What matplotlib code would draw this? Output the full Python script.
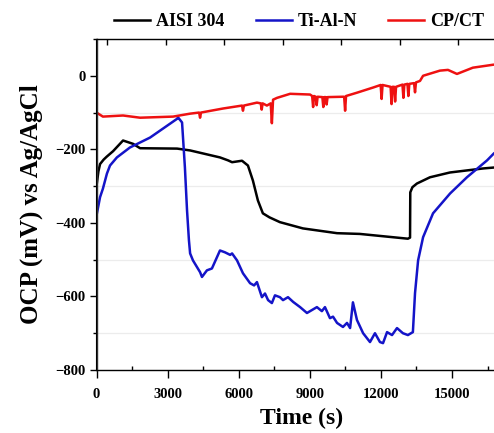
import matplotlib
matplotlib.use("Agg")
import matplotlib.pyplot as plt
from matplotlib.ticker import MultipleLocator, FixedLocator

# Open-circuit potential traces (time in s, potential in mV vs Ag/AgCl)
aisi_t = [0, 80, 150, 300, 430, 700, 1120, 1540, 1840, 3400, 3950, 5210, 5550,
          5720, 6140, 6390, 6600, 6810, 7020, 7300, 7740, 8710, 10150, 11110,
          13140, 13230, 13240, 13330, 13520, 14070, 14910, 16310, 17400]
aisi_v = [-300, -260, -240, -228, -220, -205, -176, -185, -197, -198, -203,
          -222, -230, -235, -231, -244, -285, -339, -374, -385, -398, -415,
          -428, -430, -443, -440, -317, -303, -293, -276, -263, -252, -246]

tialn_t = [0, 150, 270, 440, 570, 860, 1410, 2260, 3400, 3440, 3610, 3730,
           3820, 3900, 3950, 4070, 4370, 4450, 4660, 4870, 5210, 5420, 5640,
           5720, 5930, 6180, 6480, 6650, 6770, 6980, 7110, 7240, 7400, 7530,
           7740, 7870, 8080, 8300, 8590, 8880, 9090, 9300, 9510, 9640, 9850,
           9980, 10150, 10400, 10570, 10700, 10820, 10990, 11250, 11540,
           11750, 11960, 12090, 12260, 12470, 12680, 12930, 13140, 13350,
           13440, 13570, 13780, 14200, 14920, 15630, 16480, 16770, 17400]
tialn_v = [-380, -330, -307, -266, -244, -222, -195, -168, -117, -113, -127,
           -249, -366, -447, -483, -502, -534, -547, -529, -524, -475, -480,
           -487, -483, -502, -537, -564, -570, -561, -602, -592, -610, -618,
           -597, -602, -610, -602, -615, -629, -645, -637, -629, -640, -629,
           -659, -655, -672, -683, -672, -686, -616, -664, -700, -724, -700,
           -724, -727, -697, -705, -686, -700, -705, -697, -591, -502, -439,
           -374, -320, -276, -230, -211, -185]

cpct_t = [0, 270, 1120, 1840, 3230, 3950, 4330, 4370, 4410, 5340, 6140, 6180,
          6220, 6770, 6930, 6970, 7010, 7190, 7350, 7400, 7450, 7620, 8170,
          9010, 9100, 9140, 9180, 9250, 9290, 9330, 9530, 9570, 9610, 9670,
          9710, 9750, 10400, 10450, 10490, 10530, 10990, 11670, 11990, 12030,
          12070, 12410, 12450, 12490, 12560, 12600, 12640, 12910, 12950,
          12990, 13120, 13160, 13200, 13400, 13440, 13480, 13650, 13780,
          14490, 14830, 15210, 15880, 16730, 17400]
cpct_v = [-100, -111, -108, -114, -111, -103, -100, -114, -100, -89, -81,
          -95, -81, -73, -75, -92, -75, -81, -75, -129, -65, -60, -49, -51,
          -55, -85, -55, -57, -80, -57, -58, -85, -58, -58, -78, -58, -57,
          -57, -95, -55, -46, -32, -25, -63, -25, -30, -77, -30, -30, -70,
          -30, -24, -60, -24, -22, -55, -22, -20, -45, -18, -14, 0, 14, 16,
          5, 22, 30, 34]

series = [
    ("AISI 304", aisi_t, aisi_v, "#000000"),
    ("Ti-Al-N", tialn_t, tialn_v, "#1414c8"),
    ("CP/CT", cpct_t, cpct_v, "#ee1111"),
]

x_ticks = [0, 3000, 6000, 9000, 12000, 15000]
y_ticks = [-800, -600, -400, -200, 0]
top_ticks = [440, 2930, 5380, 7870, 10320, 12800, 15250]

serif = ["Liberation Serif", "DejaVu Serif"]

fig = plt.figure(figsize=(4.94, 4.33), dpi=100)
ax = fig.add_axes([96.5 / 494, 63 / 433, 410 / 494, 331 / 433])

for name, t, v, c in series:
    ax.plot(t, v, color=c, lw=1.8, label=name)

ax.set_xlim(0, 17300)
ax.set_ylim(-800, 100)
ax.xaxis.set_major_locator(FixedLocator(x_ticks))
ax.xaxis.set_minor_locator(MultipleLocator(1500))
ax.yaxis.set_major_locator(FixedLocator(y_ticks))
ax.yaxis.set_minor_locator(MultipleLocator(100))
ax.yaxis.grid(True, which="minor", color="#ececec", lw=0.9)
ax.set_axisbelow(True)

ax.tick_params(axis="x", which="major", direction="out", length=6, width=1,
               pad=7)
ax.tick_params(axis="x", which="minor", direction="in", length=3, width=1)
ax.tick_params(axis="y", which="major", direction="out", length=5, width=1,
               pad=3)
ax.tick_params(axis="y", which="minor", direction="out", length=3, width=1)
ax.tick_params(right=False, which="both")

for lab in ax.get_xticklabels() + ax.get_yticklabels():
    lab.set_fontfamily(serif)
    lab.set_fontweight("bold")
    lab.set_fontsize(10.5)

ax.spines["right"].set_visible(False)
for s in ("left", "bottom", "top"):
    ax.spines[s].set_linewidth(1.0)
    ax.spines[s].set_color("#333333")

top = ax.twiny()
top.set_xlim(ax.get_xlim())
top.xaxis.set_major_locator(FixedLocator(top_ticks))
top.tick_params(axis="x", direction="in", length=4, width=1, labeltop=False)
top.spines["right"].set_visible(False)

ax.set_xlabel("Time (s)", fontfamily=serif, fontweight="bold", fontsize=17,
              labelpad=5)
ax.set_ylabel("OCP (mV) vs Ag/AgCl", fontfamily=serif, fontweight="bold",
              fontsize=18, labelpad=9)

fig.legend(loc="center left", bbox_to_anchor=(98 / 494, 1 - 22 / 433),
           ncol=3, frameon=False, handlelength=2.0, handletextpad=0.3,
           columnspacing=1.75,
           prop={"family": serif, "weight": "bold", "size": 13})

fig.savefig("out.png", dpi=100)
